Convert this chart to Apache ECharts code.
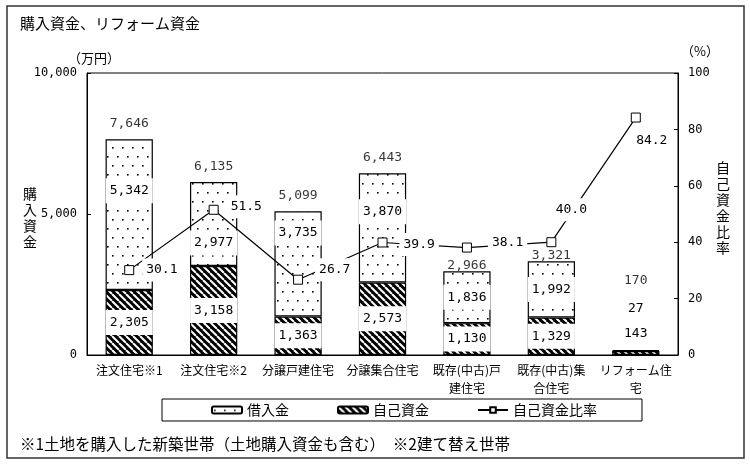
<!DOCTYPE html>
<html><head><meta charset="utf-8">
<script src="https://cdn.jsdelivr.net/npm/echarts@6/dist/echarts.min.js"></script>
<style>html,body{margin:0;padding:0;background:#fff}#c{width:750px;height:467px}</style>
</head><body><div id="c"></div>
<script>
const categories = ['注文住宅※1','注文住宅※2','分譲戸建住宅','分譲集合住宅','既存(中古)戸\n建住宅','既存(中古)集\n合住宅','リフォーム住\n宅'];
const borrowed = [5342, 2977, 3735, 3870, 1836, 1992, 27];
const ownFunds = [2305, 3158, 1363, 2573, 1130, 1329, 143];
const totals = [7646, 6135, 5099, 6443, 2966, 3321, 170];
const ownRatio = [30.1, 51.5, 26.7, 39.9, 38.1, 40.0, 84.2];
const leftTicks = { min: 0, max: 10000, interval: 5000 };
const rightTicks = { min: 0, max: 100, interval: 20 };

const FONT = '"Noto Sans CJK JP", "Noto Sans", sans-serif';
const NUM = '"DejaVu Sans Mono", "Liberation Mono", monospace';
const fmt = v => Number(v).toLocaleString('en-US');

function dotPattern() {
  const c = document.createElement('canvas'); c.width = 10; c.height = 18;
  const g = c.getContext('2d');
  g.fillStyle = '#fff'; g.fillRect(0, 0, 10, 18);
  g.fillStyle = '#000'; g.fillRect(2, 3, 1.6, 1.6); g.fillRect(7, 12, 1.6, 1.6);
  return c;
}
function hatchPattern() {
  const s = 7; const c = document.createElement('canvas'); c.width = s; c.height = s;
  const g = c.getContext('2d');
  g.fillStyle = '#000'; g.fillRect(0, 0, s, s);
  g.strokeStyle = '#fff'; g.lineWidth = 2;
  for (let k = -1; k <= 1; k++) { g.beginPath(); g.moveTo(k * s, 0); g.lineTo(k * s + s, s); g.stroke(); }
  return c;
}

const borrowOffsets = [[0,-24],[0,19],[0,-31],[0,-16],[0,0],[0,0],null];
const lastIdx = categories.length - 1;

const labelBase = { show: true, color: '#000', fontFamily: NUM, fontSize: 13, backgroundColor: '#fff', padding: [6, 4] };

const ownData = ownFunds.map((v, i) => i === lastIdx
  ? { value: v, label: { position: 'top', distance: 5, offset: [0, -6], backgroundColor: 'transparent', padding: 0 } }
  : { value: v });
const borrowData = borrowed.map((v, i) => i === lastIdx
  ? { value: v, label: { position: 'top', distance: 5, offset: [0, -30], backgroundColor: 'transparent', padding: 0 } }
  : { value: v, label: { offset: borrowOffsets[i] } });
const totalOffsets = [[0,0],[0,0],[0,0],[0,0],[0,10],[0,10],[0,-54]];
const totalData = totals.map((v, i) => ({ value: v, label: { offset: totalOffsets[i] } }));

const ratioLabelCfg = [
  { position: 'right', distance: 8, offset: [0, 0] },
  { position: 'right', distance: 8, offset: [0, -3] },
  { position: 'right', distance: 12, offset: [0, -10] },
  { position: 'right', distance: 12, offset: [0, 2] },
  { position: 'right', distance: 16, offset: [0, -5] },
  { position: 'top', distance: 5, offset: [20, -11] },
  { position: 'bottom', distance: 5, offset: [16, 2] }
];
const ratioData = ownRatio.map((v, i) => ({ value: v, label: ratioLabelCfg[i] }));

const chart = echarts.init(document.getElementById('c'), null, { renderer: 'canvas' });
chart.setOption({
  animation: false,
  textStyle: { fontFamily: FONT, color: '#000' },
  grid: { left: 87, right: 72, top: 73, bottom: 112, show: true, borderColor: '#000', borderWidth: 1, backgroundColor: 'transparent' },
  legend: {
    data: ['借入金', '自己資金', '自己資金比率'],
    left: 162, top: 399,
    padding: [4, 45, 4, 49],
    itemGap: 48, itemWidth: 30, itemHeight: 7, itemTextGap: 3,
    borderColor: '#000', borderWidth: 1,
    textStyle: { fontFamily: FONT, fontSize: 14, color: '#000' }
  },
  xAxis: {
    type: 'category', data: categories,
    axisLine: { lineStyle: { color: '#000', width: 1 } },
    axisTick: { show: false },
    axisLabel: { interval: 0, color: '#000', fontFamily: FONT, fontSize: 12, lineHeight: 18, margin: 6 }
  },
  yAxis: [
    {
      type: 'value', min: leftTicks.min, max: leftTicks.max, interval: leftTicks.interval,
      axisLine: { show: true, lineStyle: { color: '#000' } },
      axisTick: { show: true, inside: true, length: 4, lineStyle: { color: '#000' } },
      splitLine: { show: false },
      axisLabel: { color: '#000', fontFamily: NUM, fontSize: 12, margin: 10, formatter: v => fmt(v) }
    },
    {
      type: 'value', min: rightTicks.min, max: rightTicks.max, interval: rightTicks.interval, position: 'right',
      axisLine: { show: true, lineStyle: { color: '#000' } },
      axisTick: { show: true, inside: true, length: 4, lineStyle: { color: '#000' } },
      splitLine: { show: false },
      axisLabel: { color: '#000', fontFamily: NUM, fontSize: 12, margin: 10 }
    }
  ],
  series: [
    {
      name: '自己資金', type: 'bar', stack: 'fund', barWidth: '56%', data: ownData,
      itemStyle: { color: { image: hatchPattern(), repeat: 'repeat' }, borderColor: '#000', borderWidth: 1.2 },
      label: Object.assign({}, labelBase, { position: 'inside', formatter: p => fmt(p.value) })
    },
    {
      name: '借入金', type: 'bar', stack: 'fund', barWidth: '56%', data: borrowData,
      itemStyle: { color: { image: dotPattern(), repeat: 'repeat' }, borderColor: '#000', borderWidth: 1.2 },
      label: Object.assign({}, labelBase, { position: 'inside', formatter: p => fmt(p.value) })
    },
    {
      name: '合計', type: 'scatter', data: totalData, symbolSize: 0, silent: true,
      label: { show: true, position: 'top', distance: 9, color: '#000', fontFamily: NUM, fontSize: 13, formatter: p => fmt(p.value) },
      z: 5
    },
    {
      name: '自己資金比率', type: 'line', yAxisIndex: 1, data: ratioData,
      symbol: 'rect', symbolSize: 9, z: 6,
      itemStyle: { color: '#fff', borderColor: '#000', borderWidth: 1 },
      lineStyle: { color: '#000', width: 1.2 },
      label: { show: true, color: '#000', fontFamily: NUM, fontSize: 13, backgroundColor: '#fff', padding: [5, 4], formatter: p => p.value.toFixed(1) }
    }
  ],
  graphic: [
    { type: 'rect', shape: { x: 7, y: 6, width: 737, height: 452 }, style: { fill: 'none', stroke: '#333', lineWidth: 1.5 }, z: 0 },
    { type: 'text', left: 20, top: 16, style: { text: '購入資金、リフォーム資金', font: '15px ' + FONT, fill: '#000' } },
    { type: 'text', left: 68, top: 52, style: { text: '（万円）', font: '13px ' + FONT, fill: '#000' } },
    { type: 'text', left: 681, top: 45, style: { text: '（%）', font: '13px ' + FONT, fill: '#000' } },
    { type: 'text', left: 23, top: 186, style: { text: '購\n入\n資\n金', font: '14px ' + FONT, lineHeight: 16, fill: '#000' } },
    { type: 'text', left: 716, top: 160, style: { text: '自\n己\n資\n金\n比\n率', font: '14px ' + FONT, lineHeight: 16, fill: '#000' } },
    { type: 'text', left: 20, top: 436, style: { text: '※1土地を購入した新築世帯（土地購入資金も含む）　※2建て替え世帯', font: '15.5px ' + FONT, fill: '#000' } }
  ]
});
</script>
</body></html>
